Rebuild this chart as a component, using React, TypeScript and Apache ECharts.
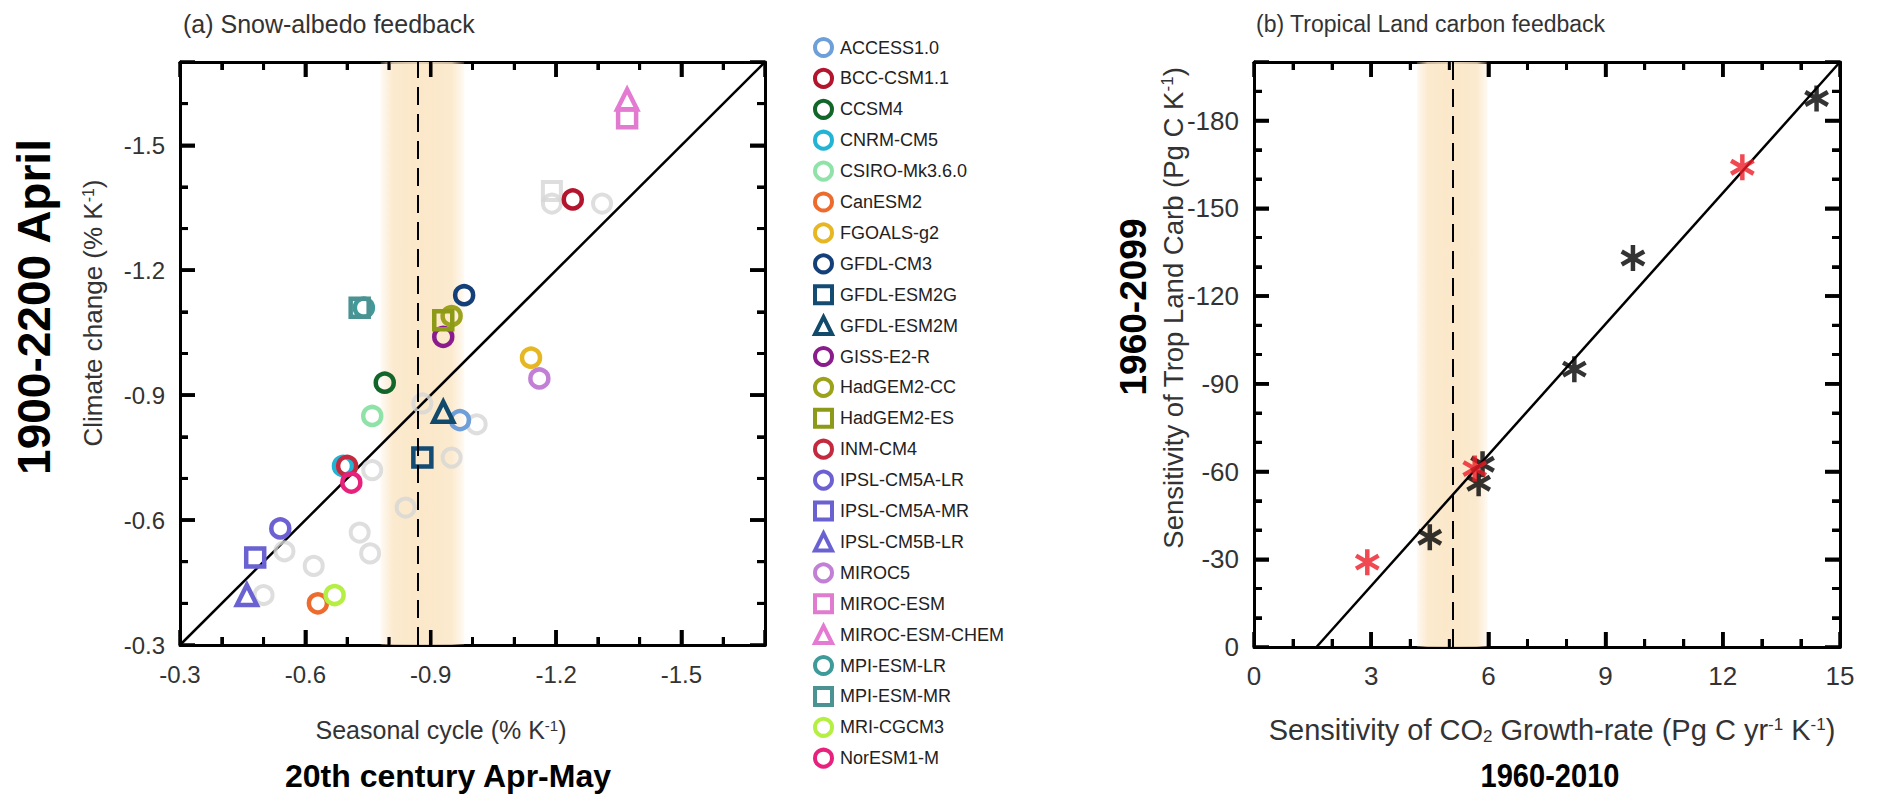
import React, { useEffect, useRef } from "react";
import * as echarts from "echarts";

// ---------- (a) Snow-albedo feedback: CMIP5 models ----------
const models = [
  "ACCESS1.0", "BCC-CSM1.1", "CCSM4", "CNRM-CM5", "CSIRO-Mk3.6.0", "CanESM2",
  "FGOALS-g2", "GFDL-CM3", "GFDL-ESM2G", "GFDL-ESM2M", "GISS-E2-R", "HadGEM2-CC",
  "HadGEM2-ES", "INM-CM4", "IPSL-CM5A-LR", "IPSL-CM5A-MR", "IPSL-CM5B-LR", "MIROC5",
  "MIROC-ESM", "MIROC-ESM-CHEM", "MPI-ESM-LR", "MPI-ESM-MR", "MRI-CGCM3", "NorESM1-M",
];
const modelColors = [
  "#6f9fd8", "#b3152e", "#12662a", "#22b4d4", "#8fe3a8", "#ec6b2d",
  "#e6b722", "#143f78", "#134b73", "#124a6c", "#8b1c8c", "#9ba31c",
  "#8d9a17", "#c42a3f", "#6c60d2", "#6a62d0", "#6a62d0", "#c17fd6",
  "#e07bcf", "#e47ad2", "#3f9a9a", "#4b9292", "#b6ef43", "#e8217c",
];
const modelSymbols = [
  "circle", "circle", "circle", "circle", "circle", "circle",
  "circle", "circle", "rect", "triangle", "circle", "circle",
  "rect", "circle", "circle", "rect", "triangle", "circle",
  "rect", "triangle", "circle", "rect", "circle", "circle",
];
// Seasonal cycle (% K^-1), 20th century Apr-May
const seasonalCycle = [
  -0.97, -1.24, -0.79, -0.69, -0.76, -0.63,
  -1.14, -0.98, -0.88, -0.93, -0.93, -0.95,
  -0.93, -0.70, -0.54, -0.48, -0.46, -1.16,
  -1.37, -1.37, -0.74, -0.73, -0.67, -0.71,
];
// Climate change (% K^-1), 1900-2200 April
const climateChange = [
  -0.84, -1.37, -0.93, -0.73, -0.85, -0.40,
  -0.99, -1.14, -0.75, -0.86, -1.04, -1.09,
  -1.08, -0.73, -0.58, -0.51, -0.42, -0.94,
  -1.565, -1.61, -1.11, -1.11, -0.42, -0.69,
];
// Faded background models (CMIP3)
const cmip3Seasonal = [-1.19, -1.19, -1.31, -0.88, -1.01, -0.95, -0.76, -0.84, -0.73, -0.755, -0.55, -0.62, -0.5];
const cmip3Climate = [-1.39, -1.36, -1.36, -0.88, -0.83, -0.75, -0.72, -0.63, -0.57, -0.52, -0.525, -0.49, -0.42];
const cmip3Symbols = ["rect", "circle", "circle", "circle", "circle", "circle", "circle", "circle", "circle", "circle", "circle", "circle", "circle"];
// Observed seasonal cycle: range and central estimate
const obsSnowRange = [-0.78, -0.98];
const obsSnowCentral = -0.87;
const snowLimits = [-0.3, -1.7];
const snowTickLabels = ["-0.3", "-0.6", "-0.9", "-1.2", "-1.5"];

// ---------- (b) Tropical land carbon feedback ----------
const co2SensBlack = [14.4, 9.7, 8.2, 5.85, 5.75, 4.5];
const landCarbBlack = [-187.5, -133, -95, -62.5, -56, -37.5];
const co2SensRed = [12.5, 5.65, 2.9];
const landCarbRed = [-164, -61, -29];
const fitCo2Sens = [1.6, 15];
const fitLandCarb = [0, -200];
const obsCo2Range = [4.17, 5.98];
const obsCo2Central = 5.1;
const carbonXLimits = [0, 15];
const carbonYLimits = [0, -200];
const carbonXTickLabels = ["0", "3", "6", "9", "12", "15"];
const carbonYTickLabels = ["0", "-30", "-60", "-90", "-120", "-150", "-180"];

const FONT = "'Liberation Sans', Arial, Helvetica, sans-serif";
const TXT = "#333";
const MAJOR = { len: 15, width: 3.5 };
const MINOR = { len: 8, width: 3 };

// Values are plotted as magnitudes so that the axes grow to the right / upwards.
const mag = (v: number) => -v;

const ASTERISK = "path://M10,0 L10,20 M1.34,5 L18.66,15 M1.34,15 L18.66,5";

const bandGradient = (rgb: string) => ({
  type: "linear",
  x: 0, y: 0, x2: 1, y2: 0,
  colorStops: [
    { offset: 0, color: `rgba(${rgb},0.2)` },
    { offset: 0.15, color: `rgba(${rgb},0.8)` },
    { offset: 0.5, color: `rgba(${rgb},0.9)` },
    { offset: 0.85, color: `rgba(${rgb},0.8)` },
    { offset: 1, color: `rgba(${rgb},0.2)` },
  ],
});

function makeAxis(
  gridIndex: number,
  position: string,
  min: number,
  max: number,
  interval: number,
  showLabel: boolean,
  fontSize: number,
  margin: number,
  formatter?: (v: number) => string
) {
  return {
    type: "value",
    gridIndex,
    position,
    min,
    max,
    interval,
    axisLine: { show: true, onZero: false, lineStyle: { color: "#000", width: 3 } },
    axisTick: { show: true, inside: true, length: MAJOR.len, lineStyle: { color: "#000", width: MAJOR.width } },
    minorTick: { show: true, splitNumber: 3, length: MINOR.len, lineStyle: { color: "#000", width: MINOR.width } },
    splitLine: { show: false },
    minorSplitLine: { show: false },
    axisLabel: {
      show: showLabel,
      formatter,
      fontSize,
      color: TXT,
      fontFamily: FONT,
      margin,
      hideOverlap: false,
    },
  };
}

// Tick positions strictly between two limits: [value, isMajor]
function tickList(lo: number, hi: number, minorStep: number, majorEvery: number) {
  const out: number[][] = [];
  const n = Math.round((hi - lo) / minorStep);
  for (let k = 1; k < n; k++) {
    const v = +(lo + k * minorStep).toFixed(6);
    const idx = Math.round(v / minorStep);
    out.push([v, idx % majorEvery === 0 ? 1 : 0]);
  }
  return out;
}

const snowFmt = (v: number) => {
  const s = "-" + v.toFixed(1);
  return snowTickLabels.includes(s) ? s : "";
};
const carbonXFmt = (v: number) => {
  const s = String(Math.round(v));
  return carbonXTickLabels.includes(s) ? s : "";
};
const carbonYFmt = (v: number) => {
  const s = Math.round(v) === 0 ? "0" : "-" + Math.round(v);
  return carbonYTickLabels.includes(s) ? s : "";
};

function text(
  str: string,
  x: number,
  y: number,
  opts: { size?: number; bold?: boolean; rotate?: boolean; align?: string; color?: string; scaleX?: number } = {}
) {
  const size = opts.size ?? 22;
  const color = opts.color ?? TXT;
  return {
    type: "text",
    x,
    y,
    rotation: opts.rotate ? Math.PI / 2 : 0,
    scaleX: opts.scaleX ?? 1,
    silent: true,
    style: {
      text: str,
      fontSize: size,
      fontFamily: FONT,
      fontWeight: opts.bold ? "bold" : "normal",
      fill: color,
      align: opts.align ?? "center",
      verticalAlign: "middle",
      rich: {
        s: { fontSize: Math.round(size * 0.6), verticalAlign: "top", fill: color, fontFamily: FONT },
        b: { fontSize: Math.round(size * 0.6), verticalAlign: "bottom", fill: color, fontFamily: FONT },
      },
    },
  };
}

export default function App() {
  const ref = useRef<HTMLDivElement>(null);

  useEffect(() => {
    if (!ref.current) return;
    const chart = echarts.init(ref.current, null, { renderer: "svg" });

    const gridA = { left: 180, top: 62, width: 585, height: 583 };
    const gridB = { left: 1254, top: 62, width: 586, height: 585 };

    const aRange = [mag(snowLimits[0]), mag(snowLimits[1])];
    const bXRange = [carbonXLimits[0], carbonXLimits[1]];
    const bYRange = [mag(carbonYLimits[0]), mag(carbonYLimits[1])];

    const modelSeries = models.map((name, i) => ({
      name,
      type: "scatter",
      xAxisIndex: 0,
      yAxisIndex: 0,
      z: 4,
      symbol: modelSymbols[i],
      symbolSize: modelSymbols[i] === "triangle" ? 20 : 18,
      itemStyle: { color: "rgba(0,0,0,0)", borderColor: modelColors[i], borderWidth: 4.5, opacity: 1 },
      data: [[mag(seasonalCycle[i]), mag(climateChange[i])]],
    }));

    const labels = [
      text("(a) Snow-albedo feedback", 183, 24, { size: 25, align: "left" }),
      text("(b) Tropical Land carbon feedback", 1256, 24, { size: 23, align: "left" }),
      text("Climate change (% K{s|-1})", 93, 313, { size: 26, rotate: true }),
      text("1900-2200 April", 34, 307, { size: 46, bold: true, rotate: true, color: "#000" }),
      text("Seasonal cycle (% K{s|-1})", 441, 730, { size: 25 }),
      text("20th century Apr-May", 448, 776, { size: 32, bold: true, color: "#000" }),
      text("Sensitivity of Trop Land Carb (Pg C K{s|-1})", 1173, 308, { size: 27.5, rotate: true }),
      text("1960-2099", 1133, 307, { size: 37, bold: true, rotate: true, color: "#000" }),
      text("Sensitivity of CO{b|2} Growth-rate (Pg C yr{s|-1} K{s|-1})", 1552, 730, { size: 29 }),
      text("1960-2010", 1550, 776, { size: 33, bold: true, color: "#000", scaleX: 0.88 }),
    ];

    const option: any = {
      animation: false,
      backgroundColor: "#fff",
      grid: [
        { ...gridA, containLabel: false },
        { ...gridB, containLabel: false },
      ],
      xAxis: [
        makeAxis(0, "bottom", aRange[0], aRange[1], 0.3, true, 24, 17, snowFmt),
        makeAxis(0, "top", aRange[0], aRange[1], 0.3, false, 24, 12),
        makeAxis(1, "bottom", bXRange[0], bXRange[1], 3, true, 26, 16, carbonXFmt),
        makeAxis(1, "top", bXRange[0], bXRange[1], 3, false, 26, 12),
      ],
      yAxis: [
        makeAxis(0, "left", aRange[0], aRange[1], 0.3, true, 24, 15, snowFmt),
        makeAxis(0, "right", aRange[0], aRange[1], 0.3, false, 24, 12),
        makeAxis(1, "left", bYRange[0], bYRange[1], 30, true, 26, 15, carbonYFmt),
        makeAxis(1, "right", bYRange[0], bYRange[1], 30, false, 26, 12),
      ],
      legend: {
        data: models,
        orient: "vertical",
        left: 808,
        top: 32,
        height: 770,
        itemWidth: 17,
        itemHeight: 17,
        itemGap: 9.9,
        itemStyle: { borderWidth: 4 },
        textStyle: { fontSize: 18, color: "#222", fontFamily: FONT, padding: [0, 0, 0, 3] },
        selectedMode: false,
      },
      graphic: labels,
      series: [
        // (a) observational band, central estimate and 1:1 line
        {
          type: "line",
          xAxisIndex: 0,
          yAxisIndex: 0,
          z: 2,
          data: [
            [aRange[0], aRange[0]],
            [aRange[1], aRange[1]],
          ],
          showSymbol: false,
          silent: true,
          lineStyle: { color: "#000", width: 2.5 },
          markArea: {
            silent: true,
            z: 1,
            itemStyle: { color: bandGradient("251,229,195") },
            data: [[{ xAxis: mag(obsSnowRange[0]) }, { xAxis: mag(obsSnowRange[1]) }]],
          },
          markLine: {
            silent: true,
            symbol: "none",
            label: { show: false },
            lineStyle: { color: "#000", width: 2, type: [18, 9] },
            data: [{ xAxis: mag(obsSnowCentral) }],
          },
        },
        {
          type: "scatter",
          xAxisIndex: 0,
          yAxisIndex: 0,
          z: 3,
          silent: true,
          symbolSize: 18,
          itemStyle: { color: "rgba(0,0,0,0)", borderColor: "#d6d6d6", borderWidth: 4 },
          data: cmip3Seasonal.map((x, i) => ({
            value: [mag(x), mag(cmip3Climate[i])],
            symbol: cmip3Symbols[i],
          })),
        },
        ...modelSeries,
        // (b) band, central estimate and regression line
        {
          type: "line",
          xAxisIndex: 2,
          yAxisIndex: 2,
          z: 2,
          data: fitCo2Sens.map((x, i) => [x, mag(fitLandCarb[i])]),
          showSymbol: false,
          silent: true,
          lineStyle: { color: "#000", width: 2.5 },
          markArea: {
            silent: true,
            z: 1,
            itemStyle: { color: bandGradient("251,229,195") },
            data: [[{ xAxis: obsCo2Range[0] }, { xAxis: obsCo2Range[1] }]],
          },
          markLine: {
            silent: true,
            symbol: "none",
            label: { show: false },
            lineStyle: { color: "#000", width: 2, type: [18, 9] },
            data: [{ xAxis: obsCo2Central }],
          },
        },
        {
          type: "scatter",
          xAxisIndex: 2,
          yAxisIndex: 2,
          z: 4,
          silent: true,
          symbol: ASTERISK,
          symbolKeepAspect: true,
          symbolSize: 26,
          itemStyle: { color: "rgba(0,0,0,0)", borderColor: "#000", borderWidth: 4.5 },
          data: co2SensBlack.map((x, i) => [x, mag(landCarbBlack[i])]),
        },
        {
          type: "scatter",
          xAxisIndex: 2,
          yAxisIndex: 2,
          z: 5,
          silent: true,
          symbol: ASTERISK,
          symbolKeepAspect: true,
          symbolSize: 26,
          itemStyle: { color: "rgba(0,0,0,0)", borderColor: "#ee1c25", borderWidth: 4.5 },
          data: co2SensRed.map((x, i) => [x, mag(landCarbRed[i])]),
        },
      ],
    };

    chart.setOption(option);

    // Inward tick marks on all four sides of each box, placed through the axis scales.
    const ticks: any[] = [];
    const addTicks = (
      axisIndex: number,
      xRange: number[],
      yRange: number[],
      xTicks: number[][],
      yTicks: number[][]
    ) => {
      const px = (v: number) => chart.convertToPixel({ xAxisIndex: axisIndex }, v) as number;
      const py = (v: number) => chart.convertToPixel({ yAxisIndex: axisIndex }, v) as number;
      const xl = px(xRange[0]);
      const xr = px(xRange[1]);
      const yb = py(yRange[0]);
      const yt = py(yRange[1]);
      const seg = (x1: number, y1: number, x2: number, y2: number, w: number) => ({
        type: "line",
        z: 100,
        silent: true,
        shape: { x1, y1, x2, y2 },
        style: { stroke: "#000", lineWidth: w },
      });
      xTicks.forEach(([v, major]) => {
        const { len, width } = major ? MAJOR : MINOR;
        const x = px(v);
        ticks.push(seg(x, yb, x, yb - len, width));
        ticks.push(seg(x, yt, x, yt + len, width));
      });
      yTicks.forEach(([v, major]) => {
        const { len, width } = major ? MAJOR : MINOR;
        const y = py(v);
        ticks.push(seg(xl, y, xl + len, y, width));
        ticks.push(seg(xr, y, xr - len, y, width));
      });
    };
    addTicks(0, aRange, aRange, tickList(aRange[0], aRange[1], 0.1, 3), tickList(aRange[0], aRange[1], 0.1, 3));
    addTicks(2, bXRange, bYRange, tickList(bXRange[0], bXRange[1], 1, 3), tickList(bYRange[0], bYRange[1], 10, 3));
    chart.setOption({ graphic: [...labels, ...ticks] });

    return () => chart.dispose();
  }, []);

  return (
    <div
      ref={ref}
      style={{ position: "absolute", left: 0, top: 0, width: 1887, height: 794, background: "#fff" }}
    />
  );
}
